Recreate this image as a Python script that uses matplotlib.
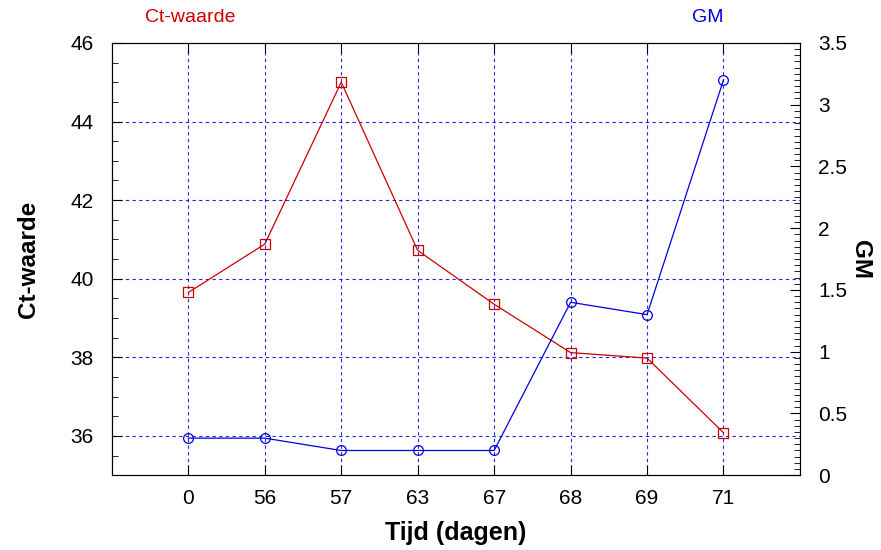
import matplotlib
matplotlib.use("Agg")
import matplotlib.pyplot as plt
from matplotlib.ticker import MultipleLocator

plt.rcParams['font.family'] = ['Liberation Sans', 'DejaVu Sans']

dagen = ['0', '56', '57', '63', '67', '68', '69', '71']
ct_waarde = [39.65, 40.88, 45.0, 40.72, 39.35, 38.12, 37.98, 36.08]
gm = [0.30, 0.30, 0.20, 0.20, 0.20, 1.40, 1.30, 3.20]

red = '#cc0000'
blue = '#0000dd'

fig = plt.figure(figsize=(8.81, 5.5), dpi=100)
ax = fig.add_axes([0.127, 0.136, 0.781, 0.786])
ax2 = ax.twinx()

x = list(range(1, len(dagen) + 1))

ax.plot(x, ct_waarde, color=red, lw=0.9, marker='s', ms=7, mfc='none', mec=red, mew=0.9, zorder=3)
ax2.plot(x, gm, color=blue, lw=0.9, marker='o', ms=7, mfc='none', mec=blue, mew=0.9, zorder=3)

ax.set_xlim(0, 9)
ax.set_xticks(x)
ax.set_xticklabels(dagen)
ax.set_ylim(35, 46)
ax.yaxis.set_major_locator(MultipleLocator(2))
ax.yaxis.set_minor_locator(MultipleLocator(0.5))
ax2.set_ylim(0, 3.5)
ax2.yaxis.set_minor_locator(MultipleLocator(0.05))
ax2.set_yticks([0, 0.5, 1, 1.5, 2, 2.5, 3, 3.5])
ax2.set_yticklabels(['0', '0.5', '1', '1.5', '2', '2.5', '3', '3.5'])

# grid: blue dashed at left major ticks and category positions
for yv in [36, 38, 40, 42, 44]:
    ax.axhline(yv, color=blue, ls=(0, (3, 3)), lw=0.8, alpha=0.85, zorder=1)
for xv in x:
    ax.axvline(xv, color=blue, ls=(0, (3, 3)), lw=0.8, alpha=0.85, zorder=1)

ax.tick_params(axis='both', which='both', direction='in', labelsize=15, top=True)
ax.tick_params(axis='x', which='major', length=7, pad=10)
ax.tick_params(axis='y', which='major', length=7, pad=13)
ax.tick_params(axis='y', which='minor', length=4)
ax2.tick_params(axis='y', which='both', direction='in', labelsize=15, pad=13)
ax2.tick_params(axis='y', which='major', length=7)
ax2.tick_params(axis='y', which='minor', length=4)

ax.set_xlabel('Tijd (dagen)', fontsize=18, fontweight='bold', labelpad=9)
ax.set_ylabel('Ct-waarde', fontsize=17.5, fontweight='bold', labelpad=22)
ax2.set_ylabel('GM', fontsize=17.5, fontweight='bold', rotation=270, labelpad=18)

fig.text(190 / 881, 1 - 18 / 550, 'Ct-waarde', color=red, fontsize=14, ha='center', va='center')
fig.text(708 / 881, 1 - 18 / 550, 'GM', color=blue, fontsize=14, ha='center', va='center')

fig.savefig('out.png', dpi=100)
